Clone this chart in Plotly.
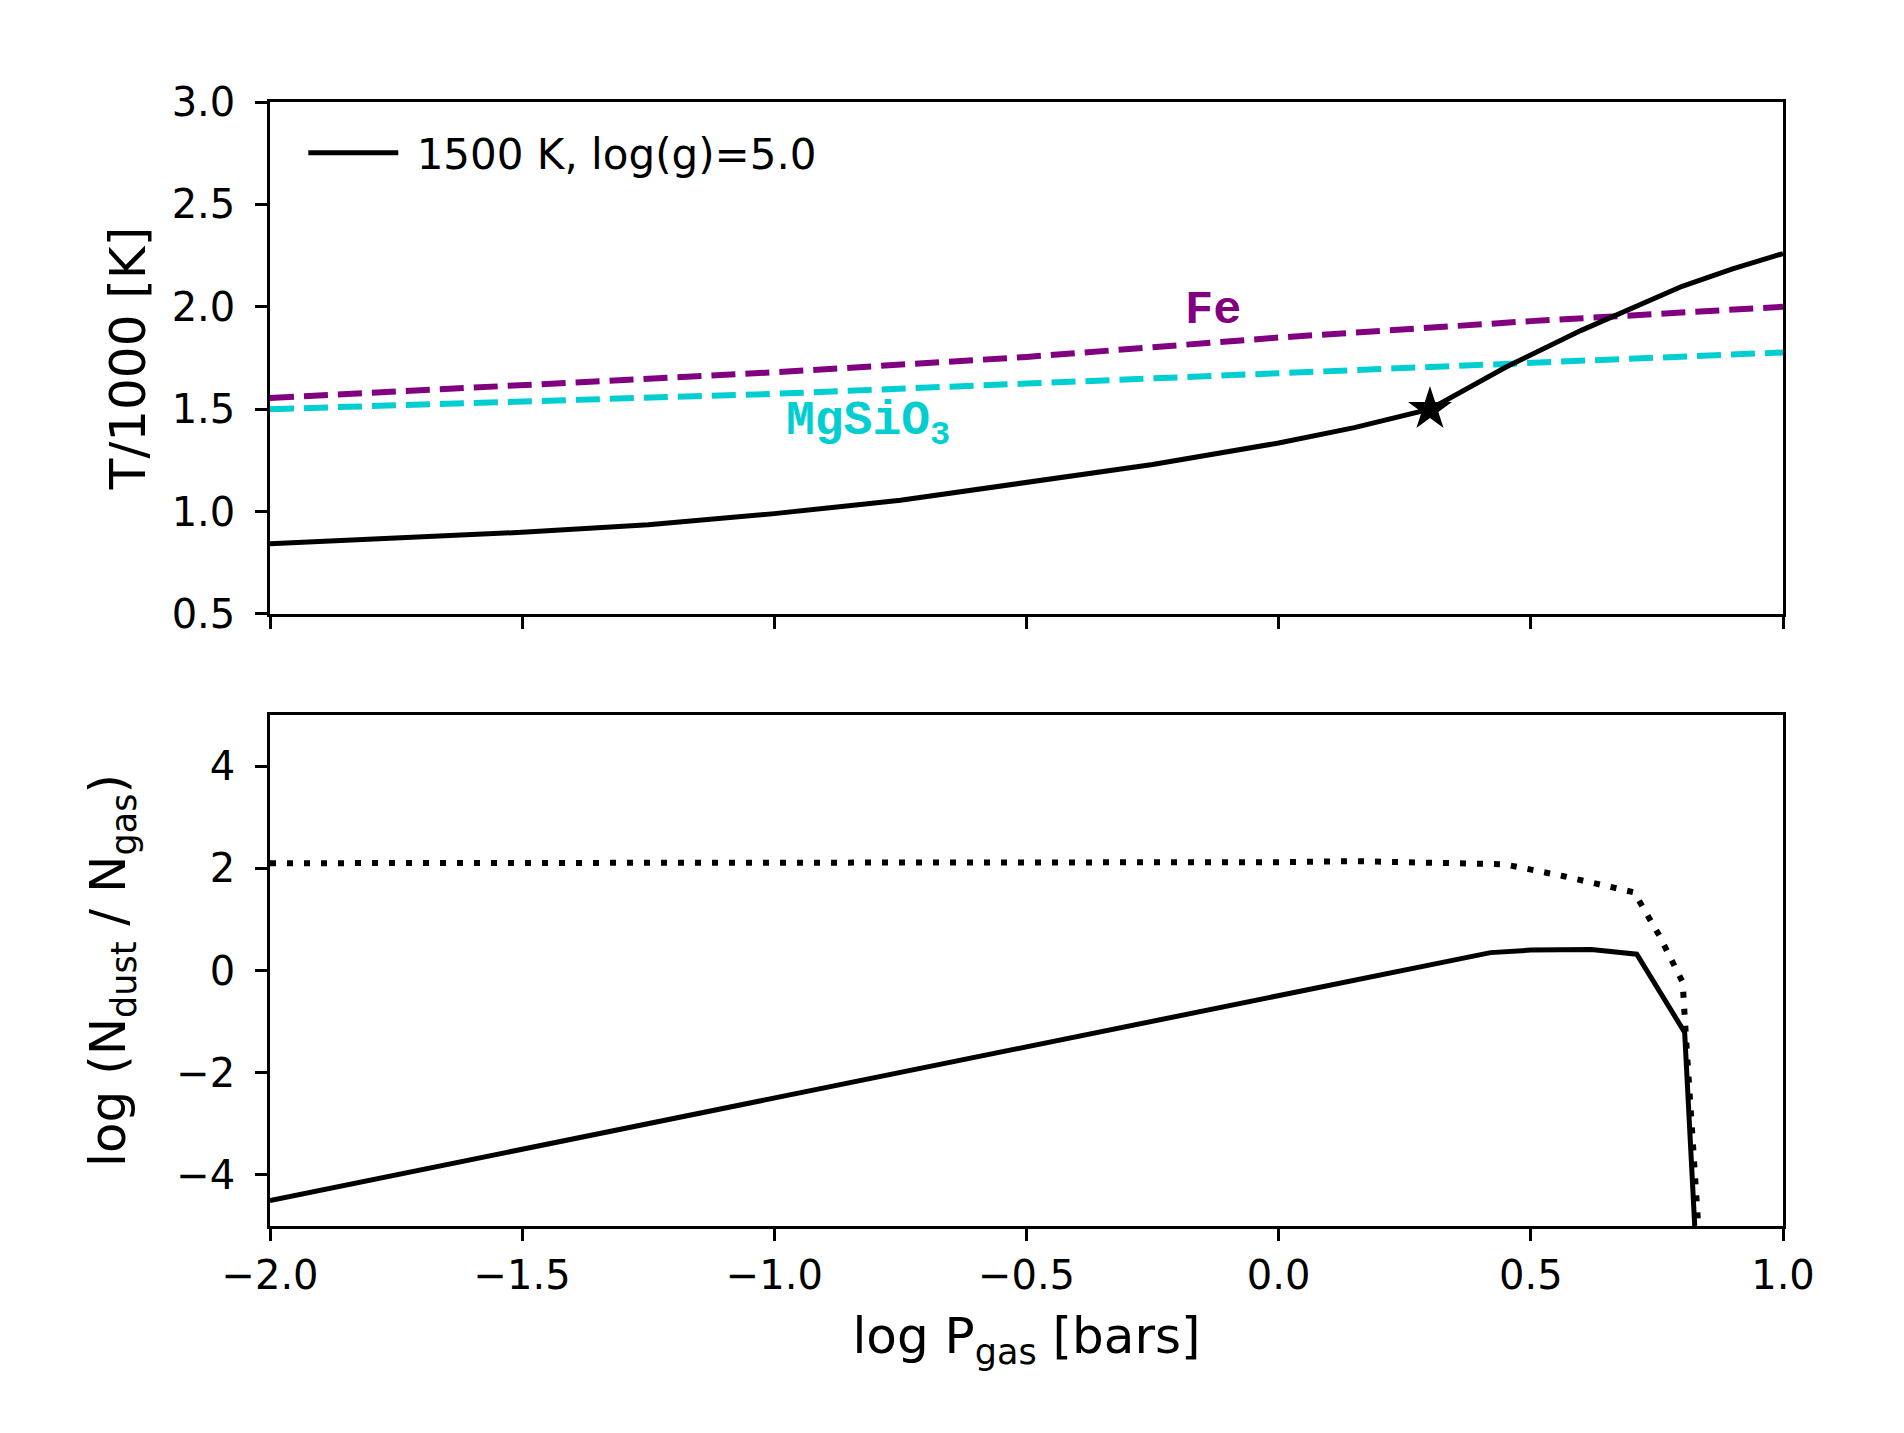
import plotly.graph_objects as go

# top panel: temperature profile and condensation curves
P_TP = [-2.0, -1.75, -1.5, -1.25, -1.0, -0.75, -0.5, -0.25, 0.0, 0.15, 0.3, 0.45, 0.6, 0.8, 0.9, 1.0]
T_TP = [0.843, 0.868, 0.899, 0.936, 0.99, 1.055, 1.14, 1.23, 1.335, 1.41, 1.50, 1.705, 1.885, 2.10, 2.185, 2.26]

P_COND = [-2.0, -1.0, -0.5, 0.0, 0.5, 1.0]
T_FE = [1.555, 1.68, 1.755, 1.85, 1.93, 2.0]
T_MGSIO3 = [1.50, 1.575, 1.625, 1.675, 1.725, 1.777]

P_STAR = [0.3]
T_STAR = [1.5]

# bottom panel: dust to gas ratio
P_DUST = [-2.0, 0.42, 0.5, 0.62, 0.71, 0.805, 0.825]
N_DUST = [-4.5, 0.35, 0.40, 0.41, 0.32, -1.21, -5.0]

P_DOT = [-2.0, -1.0, 0.0, 0.15, 0.3, 0.447, 0.563, 0.705, 0.755, 0.801, 0.807, 0.832]
N_DOT = [2.10, 2.10, 2.12, 2.14, 2.11, 2.08, 1.85, 1.53, 0.68, -0.23, -1.21, -5.0]

FONT = "DejaVu Sans"
TICK_SIZE = 40
TITLE_SIZE = 50

fig = go.Figure()

fig.add_trace(go.Scatter(x=P_COND, y=T_FE, mode="lines", showlegend=False,
                         line=dict(color="#800080", width=6, dash="24px,10px"),
                         xaxis="x", yaxis="y"))
fig.add_trace(go.Scatter(x=P_COND, y=T_MGSIO3, mode="lines", showlegend=False,
                         line=dict(color="#00CED1", width=6, dash="24px,10px"),
                         xaxis="x", yaxis="y"))
fig.add_trace(go.Scatter(x=P_TP, y=T_TP, mode="lines", name="\u00a01500 K, log(g)=5.0",
                         line=dict(color="black", width=5),
                         xaxis="x", yaxis="y"))
fig.add_trace(go.Scatter(x=P_STAR, y=T_STAR, mode="markers", showlegend=False,
                         marker=dict(symbol="star", size=33, color="black"),
                         xaxis="x", yaxis="y"))

fig.add_trace(go.Scatter(x=P_DOT, y=N_DOT, mode="lines", showlegend=False,
                         line=dict(color="black", width=6, dash="6px,11px"),
                         xaxis="x2", yaxis="y2"))
fig.add_trace(go.Scatter(x=P_DUST, y=N_DUST, mode="lines", showlegend=False,
                         line=dict(color="black", width=5),
                         xaxis="x2", yaxis="y2"))

fig.add_annotation(x=-0.19, y=1.98, xref="x", yref="y", text="<b>Fe</b>",
                   showarrow=False, xanchor="left", yanchor="middle",
                   font=dict(family="Liberation Mono", size=47, color="#800080"))
fig.add_annotation(x=-0.98, y=1.43, xref="x", yref="y", text="<b>MgSiO<sub>3</sub></b>",
                   showarrow=False, xanchor="left", yanchor="middle",
                   font=dict(family="Liberation Mono", size=48, color="#00CED1"))

axis_common = dict(showline=True, linewidth=2.5, linecolor="black", mirror=True,
                   ticks="outside", ticklen=12, tickwidth=2.5, tickcolor="black",
                   showgrid=False, zeroline=False,
                   tickfont=dict(family=FONT, size=TICK_SIZE, color="black"))

fig.update_layout(
    width=1904, height=1433,
    paper_bgcolor="white", plot_bgcolor="white",
    margin=dict(l=262, r=129, t=94, b=215),
    font=dict(family=FONT, color="black"),
    xaxis=dict(range=[-2, 1], dtick=0.5, tick0=-2, showticklabels=False,
               anchor="y", **axis_common),
    yaxis=dict(domain=[0.5445, 1], range=[0.5, 3.0], dtick=0.5, tick0=0.5,
               tickformat=".1f", anchor="x", ticklabelstandoff=12,
               title=dict(text="T/1000 [K]", standoff=11,
                          font=dict(family=FONT, size=TITLE_SIZE)),
               **axis_common),
    xaxis2=dict(range=[-2, 1], dtick=0.5, tick0=-2, tickformat=".1f", anchor="y2",
                matches="x",
                title=dict(text="log P<sub>gas</sub> [bars]", standoff=22,
                           font=dict(family=FONT, size=TITLE_SIZE)),
                **axis_common),
    yaxis2=dict(domain=[0, 0.4546], range=[-5, 5], tickvals=[-4, -2, 0, 2, 4],
                anchor="x2", ticklabelstandoff=12,
                title=dict(text="log (N<sub>dust</sub> / N<sub>gas</sub>)", standoff=35,
                           font=dict(family=FONT, size=TITLE_SIZE)),
                **axis_common),
    legend=dict(x=0.022, y=0.985, xanchor="left", yanchor="top",
                bgcolor="rgba(0,0,0,0)", borderwidth=0, itemwidth=90,
                font=dict(family=FONT, size=42, color="black")),
)

fig.write_html("out.html")
